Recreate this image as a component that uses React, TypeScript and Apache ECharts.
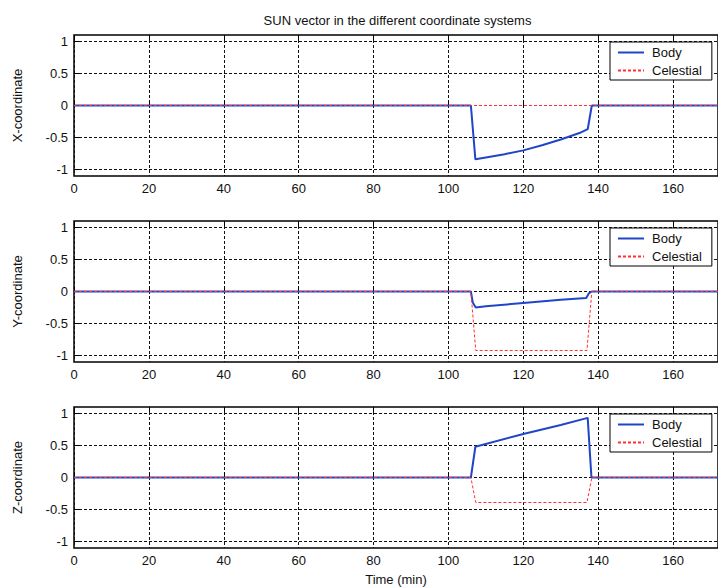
import React, { useEffect, useRef } from "react";
import * as echarts from "echarts";

// Time samples (min) and sun-vector components for each frame
const bodyX: [number, number][] = [
  [0, 0], [106, 0], [107.2, -0.84], [110, -0.81], [115, -0.76], [120, -0.7],
  [125, -0.62], [130, -0.53], [135, -0.43], [137.2, -0.37], [138.3, 0], [172, 0],
];
const celestialX: [number, number][] = [[0, 0], [172, 0]];

const bodyY: [number, number][] = [
  [0, 0], [106, 0], [106.5, -0.17], [107.3, -0.25], [110, -0.23], [120, -0.18],
  [130, -0.13], [136.8, -0.1], [137.5, -0.03], [138.3, 0], [172, 0],
];
const celestialY: [number, number][] = [
  [0, 0], [106, 0], [107.3, -0.92], [137, -0.92], [138.3, 0], [172, 0],
];

const bodyZ: [number, number][] = [
  [0, 0], [106, 0], [107.2, 0.48], [120, 0.68], [130, 0.82], [137.2, 0.93], [138.2, 0], [172, 0],
];
const celestialZ: [number, number][] = [
  [0, 0], [106, 0], [107.3, -0.39], [137, -0.39], [138.3, 0], [172, 0],
];

const panelNames = ["X-coordinate", "Y-coordinate", "Z-coordinate"];
const bodySeries = [bodyX, bodyY, bodyZ];
const celestialSeries = [celestialX, celestialY, celestialZ];
const seriesNames = ["Body", "Celestial"];
const titleText = "SUN vector in the different coordinate systems";
const xAxisTitle = "Time (min)";
const timeMax = 172;

const FONT = "Liberation Sans, Arial, Helvetica, sans-serif";
const BLUE = "#1f45c8";
const RED = "#ff3030";
const panelTops = [35, 221, 407];
const panelHeight = 141;
const plotLeft = 74;
const plotWidth = 645;

export default function App() {
  const ref = useRef<HTMLDivElement>(null);

  useEffect(() => {
    if (!ref.current) return;
    const chart = echarts.init(ref.current, undefined, { renderer: "svg" });

    const grid: any[] = [];
    const xAxis: any[] = [];
    const yAxis: any[] = [];
    const series: any[] = [];
    const legend: any[] = [];

    const gridLine = { show: true, lineStyle: { color: "#111", width: 1, type: [3, 2] } };

    panelNames.forEach((name, i) => {
      grid.push({
        left: plotLeft,
        top: panelTops[i],
        width: plotWidth,
        height: panelHeight,
        show: true,
        borderColor: "#000",
        borderWidth: 1.5,
        backgroundColor: "#fff",
      });
      // bottom axis with labels
      xAxis.push({
        type: "value",
        gridIndex: i,
        min: 0,
        max: timeMax,
        interval: 20,
        position: "bottom",
        axisLine: { show: false },
        axisTick: { show: true, inside: true, length: 5, lineStyle: { color: "#000" } },
        axisLabel: {
          show: true,
          margin: 6,
          fontSize: 13,
          fontFamily: FONT,
          color: "#111",
          showMaxLabel: false,
        },
        splitLine: gridLine,
        name: i === 2 ? xAxisTitle : "",
        nameLocation: "middle",
        nameGap: 25,
        nameTextStyle: { fontSize: 13, fontFamily: FONT, color: "#111" },
      });
      // top mirror axis (ticks only)
      xAxis.push({
        type: "value",
        gridIndex: i,
        min: 0,
        max: timeMax,
        interval: 20,
        position: "top",
        axisLine: { show: false },
        axisTick: { show: true, inside: true, length: 5, lineStyle: { color: "#000" } },
        axisLabel: { show: false },
        splitLine: { show: false },
      });
      yAxis.push({
        type: "value",
        gridIndex: i,
        min: -1.1,
        max: 1.1,
        splitNumber: 5,
        axisLine: { show: false },
        axisTick: { show: true, inside: true, length: 5, lineStyle: { color: "#000" } },
        axisLabel: {
          show: true,
          margin: 6,
          fontSize: 13,
          fontFamily: FONT,
          color: "#111",
          showMinLabel: false,
          showMaxLabel: false,
        },
        splitLine: { ...gridLine, showMinLine: false, showMaxLine: false },
        name,
        nameLocation: "middle",
        nameRotate: 90,
        nameGap: 50,
        nameTextStyle: { fontSize: 13, fontFamily: FONT, color: "#111" },
      });

      series.push({
        name: seriesNames[0],
        type: "line",
        xAxisIndex: i * 2,
        yAxisIndex: i,
        data: bodySeries[i],
        symbol: "none",
        lineStyle: { color: BLUE, width: 2 },
        itemStyle: { color: BLUE },
        z: 3,
      });
      series.push({
        name: seriesNames[1],
        type: "line",
        xAxisIndex: i * 2,
        yAxisIndex: i,
        data: celestialSeries[i],
        symbol: "none",
        lineStyle: { color: RED, width: 1, type: [3, 2] },
        itemStyle: { color: RED },
        z: 4,
      });

      legend.push({
        data: seriesNames,
        orient: "vertical",
        left: 610,
        top: panelTops[i] + 7,
        itemWidth: 26,
        itemHeight: 14,
        itemGap: 5,
        padding: [4, 10, 3, 7],
        backgroundColor: "#fff",
        borderColor: "#000",
        borderWidth: 1,
        borderRadius: 0,
        selectedMode: false,
        // line samples only, no marker on them
        itemStyle: { opacity: 0 },
        textStyle: { fontSize: 13, fontFamily: FONT, color: "#111", padding: [0, 0, 0, 3] },
      });
    });

    chart.setOption({
      animation: false,
      backgroundColor: "#fff",
      grid,
      xAxis,
      yAxis,
      series,
      legend,
      graphic: [
        {
          type: "text",
          x: plotLeft + plotWidth / 2 + 1,
          y: 20,
          style: {
            text: titleText,
            fontSize: 13,
            fontFamily: FONT,
            fill: "#111",
            textAlign: "center",
            textVerticalAlign: "middle",
          },
        },
      ],
    });

    return () => chart.dispose();
  }, []);

  return (
    <div
      ref={ref}
      style={{ position: "fixed", left: 0, top: 0, width: 718, height: 587, background: "#fff" }}
    />
  );
}
